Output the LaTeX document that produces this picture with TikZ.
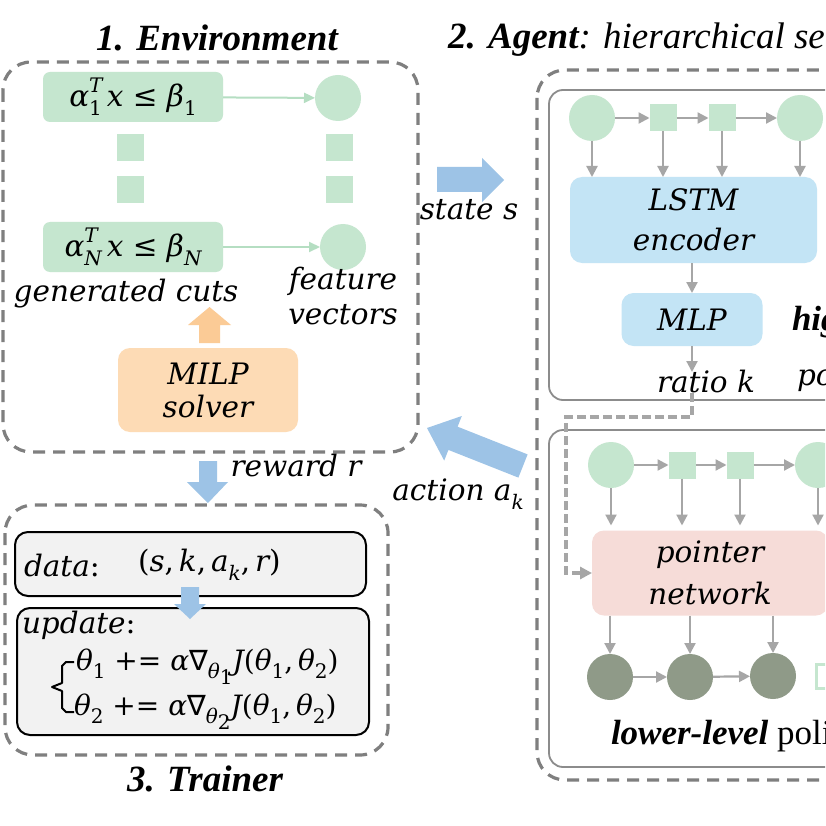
\documentclass[tikz,border=0pt]{standalone}
\usepackage{fontspec}
\newfontfamily\tnr{Liberation Serif}
\newfontfamily\dvs{DejaVu Serif}
\newfontfamily\dvsans{DejaVu Sans}
\usetikzlibrary{arrows.meta,calc}
\definecolor{cgreen}{HTML}{C5E6CF}
\definecolor{agreen}{HTML}{B5DEC2}
\definecolor{dgreen}{HTML}{8F9A88}
\definecolor{lblue}{HTML}{C3E4F5}
\definecolor{fblue}{HTML}{9DC3E6}
\definecolor{lorange}{HTML}{FDDBB5}
\definecolor{forange}{HTML}{FBCB96}
\definecolor{lpink}{HTML}{F6DCD8}
\definecolor{dgray}{HTML}{7F7F7F}
\definecolor{igray}{HTML}{8C8C8C}
\definecolor{agray}{HTML}{A6A6A6}
\definecolor{tgray}{HTML}{F2F2F2}
\newcommand\myfs{\fontsize{29.5}{36}\selectfont}
\newcommand\ttlfs{\fontsize{37}{42}\selectfont}
\newcommand\ssz{\fontsize{20}{20}\selectfont}
\newcommand\lo[1]{\raisebox{-0.3em}{\ssz #1}}
\newcommand\hi[1]{\raisebox{0.48em}{\ssz #1}}
\newcommand\hilo[2]{\rlap{\hi{#1}}\lo{#2}}
\newcommand\up[1]{{\upshape #1}}
\begin{document}
\begin{tikzpicture}[x=1pt,y=-1pt,
  every node/.style={inner sep=0pt, outer sep=0pt},
  mt/.style={font=\myfs\dvs\itshape},
  ttl/.style={font=\ttlfs\tnr\bfseries\itshape},
  outerdash/.style={draw=dgray, line width=3.2pt, dash pattern=on 12pt off 8pt, rounded corners=28pt},
  innerbox/.style={draw=igray, line width=1.8pt, rounded corners=14pt},
  cutbox/.style={fill=cgreen, rounded corners=7pt, minimum width=180pt, minimum height=50pt, font=\myfs\dvs\itshape},
  gcirc/.style={circle, fill=cgreen, minimum size=46pt},
  gsq/.style={rectangle, fill=cgreen, minimum size=27pt},
  dcirc/.style={circle, fill=dgreen, minimum size=46pt},
  ga/.style={draw=agray, line width=2.2pt, -{Triangle[length=11pt,width=11pt]}},
  gra/.style={draw=agreen, line width=2pt, -{Triangle[length=11pt,width=10pt]}},
  gdash/.style={draw=agray, line width=3.2pt, dash pattern=on 9pt off 4pt, -{Triangle[length=12pt,width=12pt]}},
  bluebox/.style={fill=lblue, rounded corners=12pt, align=center},
  tbox/.style={fill=tgray, draw=black, line width=2pt, rounded corners=13pt},
]
\useasboundingbox (0,0) rectangle (825,826);
\clip (0,0) rectangle (825,826);
\fill[white] (0,0) rectangle (825,826);

% ---------- 1. Environment ----------
\node[ttl] (t1) at (217,38) {1. Environment};
\draw[outerdash] (3,62) rectangle (418,452);
\node[cutbox] (c1) at (133,97) {α\hilo{T}{\up{1}}\,x \up{≤} β\lo{\up{1}}};
\node[cutbox] (cN) at (133,247) {α\hilo{T}{N}\,x \up{≤} β\lo{N}};
\node[gsq] (d1) at (130.5,147.5) {};
\node[gsq] (d2) at (130.5,189.5) {};
\node[gcirc] (f1) at (338,98) {};
\node[gcirc] (fN) at (343,247) {};
\node[gsq] (e1) at (339.5,147.5) {};
\node[gsq] (e2) at (339.5,189.5) {};
\draw[gra] (c1) -- (f1);
\draw[gra] (cN) -- (fN);
\node[mt] (gc) at (126,294) {generated cuts};
\node[mt, align=center, font=\fontsize{29.5}{35}\selectfont\dvs\itshape] (fv) at (343,296) {feature\\vectors};
\node[fill=lorange, rounded corners=12pt, minimum width=180pt, minimum height=84pt, align=center, font=\fontsize{29.5}{33}\selectfont\dvs\itshape] (milp) at (208,390) {MILP\\solver};
\fill[forange] (199,343) -- (199,325) -- (188,325) -- (209.5,307) -- (231,325) -- (220,325) -- (220,343) -- cycle;

% ---------- arrows between parts ----------
\fill[fblue] (437,167) -- (482,167) -- (482,158) -- (504,180) -- (482,202) -- (482,192) -- (437,192) -- cycle;
\node[mt] (st) at (469,210) {state s};
\fill[fblue] (527.6,454.4) -- (457.6,426.7) -- (461.8,416) -- (427,428) -- (444.2,460.6) -- (448.4,449.9) -- (518.4,477.6) -- cycle;
\node[mt] (act) at (458,494) {action a\lo{k}};
\fill[fblue] (199,461) -- (217,461) -- (217,482) -- (228,482) -- (208,503) -- (187,482) -- (199,482) -- cycle;
\node[mt] (rw) at (296,465) {reward r};

% ---------- 2. Agent ----------
\node[ttl, anchor=west] (t2) at (448,40) {2. Agent\textmd{: hierarchical sequence model}};
\draw[outerdash] (537,70) rectangle (900,780);
\draw[innerbox] (549,90) rectangle (900,400);
\draw[innerbox] (549,430) rectangle (900,767);

% high-level policy
\node[gcirc] (h1) at (592,118) {};
\node[gsq] (h2) at (663,118) {};
\node[gsq] (h3) at (722,118) {};
\node[gcirc] (h4) at (800,118) {};
\draw[ga] (h1) -- (h2);
\draw[ga] (h2) -- (h3);
\draw[ga] (h3) -- (h4);
\node[bluebox, minimum width=247pt, minimum height=86pt, font=\fontsize{29.5}{40}\selectfont\dvs\itshape] (lstm) at (693.5,220) {LSTM\\encoder};
\draw[ga] (h1) -- (h1 |- lstm.north);
\draw[ga] (h2) -- (h2 |- lstm.north);
\draw[ga] (h3) -- (h3 |- lstm.north);
\draw[ga] (h4) -- (h4 |- lstm.north);
\node[bluebox, minimum width=141pt, minimum height=53pt, font=\myfs\dvs\itshape] (mlp) at (692,319.5) {MLP};
\draw[ga] (lstm.south -| mlp) -- (mlp.north);
\coordinate (rk) at (692,372);
\draw[ga] (mlp.south) -- (rk);
\node[mt] (ratio) at (706,381) {ratio k};
\node[font=\fontsize{35}{38}\selectfont\tnr\bfseries\itshape, anchor=west] (hl) at (792,322) {high-level};
\node[mt, anchor=west] (hp) at (797,378) {policy};

% low-level policy
\node[gcirc] (l1) at (611,465) {};
\node[gsq] (l2) at (682,465) {};
\node[gsq] (l3) at (740,465) {};
\node[gcirc] (l4) at (818,465) {};
\draw[ga] (l1) -- (l2);
\draw[ga] (l2) -- (l3);
\draw[ga] (l3) -- (l4);
\node[fill=lpink, rounded corners=12pt, minimum width=236pt, minimum height=85pt, align=center, font=\fontsize{29.5}{42}\selectfont\dvs\itshape] (ptr) at (710,573) {pointer\\network};
\draw[ga, shorten >=5pt] (l1) -- (l1 |- ptr.north);
\draw[ga, shorten >=5pt] (l2) -- (l2 |- ptr.north);
\draw[ga, shorten >=5pt] (l3) -- (l3 |- ptr.north);
\draw[ga, shorten >=5pt] (l4) -- (l4 |- ptr.north);
\coordinate (d0) at (692,393);
\draw[gdash] (d0) -- (692,417) -| (566,573) -- (ptr.west);
\node[dcirc] (o1) at (610,677) {};
\node[dcirc] (o2) at (690,677) {};
\node[dcirc] (o3) at (773,676) {};
\draw[ga] (ptr.south -| o1) -- (o1);
\draw[ga] (ptr.south -| o2) -- (o2);
\draw[ga] (ptr.south -| o3) -- (o3);
\draw[ga] (o1) -- (o2);
\draw[ga] (o2) -- (o3);
\node[draw=cgreen, line width=3pt, fill=white, minimum width=22pt, minimum height=24pt] (sm) at (827,676) {};
\node[anchor=west, font=\fontsize{35}{40}\selectfont\tnr] (ll) at (611,736) {\textbf{\textit{lower-level}} policy};

% ---------- 3. Trainer ----------
\draw[outerdash] (5,505) rectangle (388,755);
\node[tbox, minimum width=351pt, minimum height=64pt] (data) at (190.5,564) {};
\node[tbox, minimum width=352pt, minimum height=127pt] (upd) at (193,671.5) {};
\node[mt, anchor=west] (dl) at (24,565) {data\up{:}};
\node[mt, anchor=west] (dt) at (138,565) {\up{(}s\up{,}\,k\up{,}\,a\lo{k}\up{,}\,r\up{)}};
\fill[fblue] (181,587) -- (199,587) -- (199,604) -- (206,604) -- (190,619) -- (174,604) -- (181,604) -- cycle;
\node[mt, anchor=west] (ul) at (22,625) {update\up{:}};
\node[anchor=west, font=\fontsize{28}{34}\selectfont\dvs\itshape] (eq1) at (76,667) {θ\lo{\up{1}} \up{+=} α{\dvsans ∇}\lo{θ\lo{\up{1}}}J\up{(}θ\lo{\up{1}}\up{,}\,θ\lo{\up{2}}\up{)}};
\node[anchor=west, font=\fontsize{28}{34}\selectfont\dvs\itshape] (eq2) at (74,712) {θ\lo{\up{2}} \up{+=} α{\dvsans ∇}\lo{θ\lo{\up{2}}}J\up{(}θ\lo{\up{1}}\up{,}\,θ\lo{\up{2}}\up{)}};
\draw[black, line width=2pt, line join=round] (74,662) -- (66,662) -- (62,666) -- (62,683) -- (52,687) -- (62,691) -- (62,708) -- (66,712) -- (74,712);
\node[ttl] (t3) at (205,779) {3. Trainer};
\end{tikzpicture}
\end{document}
